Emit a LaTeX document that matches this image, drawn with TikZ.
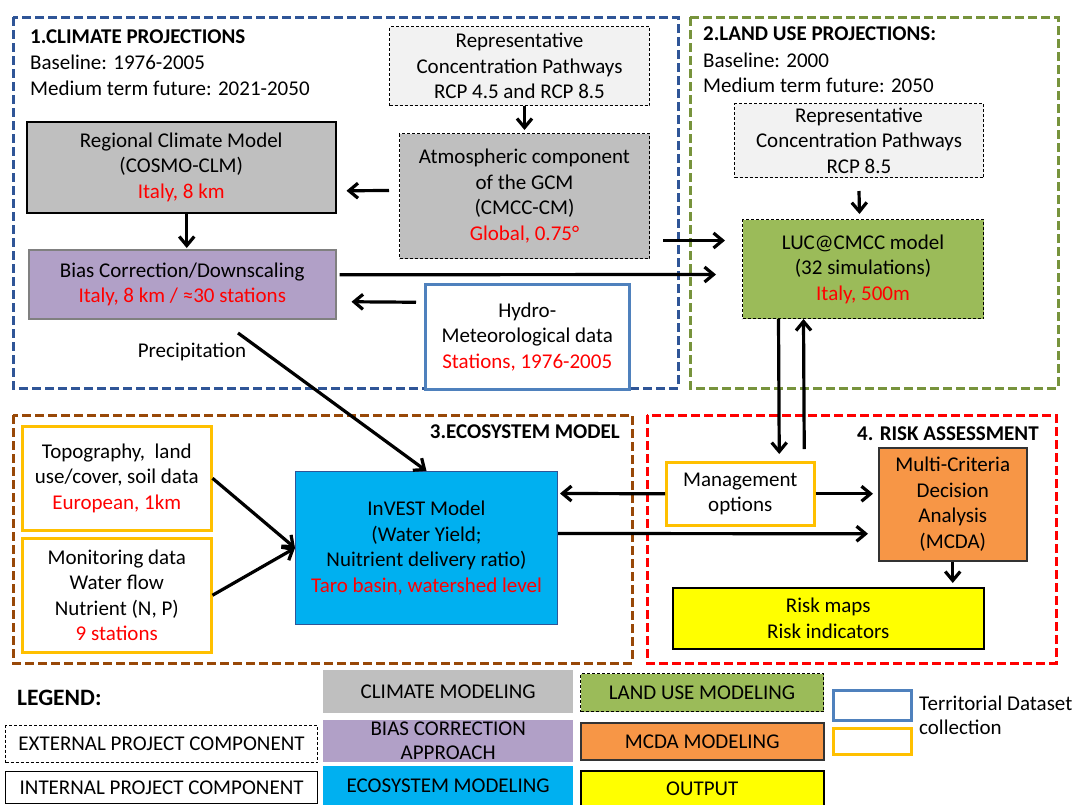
\documentclass[tikz,border=0pt]{standalone}
\usepackage{fontspec}
\setmainfont{Carlito}
\usetikzlibrary{arrows.meta}
\definecolor{gblue}{RGB}{47,85,151}
\definecolor{ggreen}{RGB}{119,147,60}
\definecolor{gbrown}{RGB}{152,72,7}
\definecolor{gred}{RGB}{255,0,0}
\definecolor{lgray}{RGB}{242,242,242}
\definecolor{mgray}{RGB}{191,191,191}
\definecolor{purp}{RGB}{177,160,199}
\definecolor{hblue}{RGB}{79,129,189}
\definecolor{lgreen}{RGB}{155,187,89}
\definecolor{cyanb}{RGB}{0,176,240}
\definecolor{orng}{RGB}{247,150,70}
\definecolor{ybord}{RGB}{255,192,0}
\definecolor{yfill}{RGB}{255,255,0}
\definecolor{txtred}{RGB}{255,0,0}
\newcommand\bodyf{\fontsize{21}{25.5}\selectfont}
\newcommand\legf{\fontsize{21}{24}\selectfont}
\newcommand\red[1]{\textcolor{txtred}{#1}}
\begin{document}
\begin{tikzpicture}[x=1pt,y=-1pt,
  box/.style={rectangle,align=center,inner sep=0pt,font=\bodyf,anchor=north west},
  extbox/.style={box,draw=black,line width=1pt,dash pattern=on 3pt off 2pt},
  group/.style={line width=3pt,dash pattern=on 9pt off 4pt},
  arr/.style={line width=3.2pt,-{Straight Barb[length=9pt,width=15pt]}},
  ttl/.style={font=\bodyf\bfseries,inner sep=0pt},
  plain/.style={font=\bodyf,inner sep=0pt},
  leg/.style={rectangle,align=center,inner sep=0pt,font=\legf,anchor=north west}]
\useasboundingbox (0,0) rectangle (1077,804);
\fill[white] (0,0) rectangle (1077,804);
% group frames
\draw[group,draw=gblue] (13,17) rectangle (678,388);
\draw[group,draw=ggreen] (690,17) rectangle (1058,388);
\draw[group,draw=gbrown] (13,415) rectangle (632,663);
\draw[group,draw=gred] (647,415) rectangle (1056,663);
% titles
\node[ttl,anchor=west] (t1) at (30,37) {1.CLIMATE PROJECTIONS};
\node[plain,anchor=west] (t1a) at (30,62) {Baseline: 1976-2005};
\node[plain,anchor=west] (t1b) at (30,88) {Medium term future: 2021-2050};
\node[ttl,anchor=west] (t2) at (703,34) {2.LAND USE PROJECTIONS:};
\node[plain,anchor=west] (t2a) at (703,60) {Baseline: 2000};
\node[plain,anchor=west] (t2b) at (703,85) {Medium term future: 2050};
\node[ttl,anchor=east] (t3) at (620,432) {3.ECOSYSTEM MODEL};
\node[ttl,anchor=west] (t4) at (857,434) {4. RISK ASSESSMENT};
% boxes
\node[extbox,fill=lgray,minimum width=260pt,minimum height=79pt] (rcp1) at (389,26)
  {Representative\\Concentration Pathways\\RCP 4.5 and RCP 8.5};
\node[extbox,fill=mgray,minimum width=250pt,minimum height=125pt] (gcm) at (399,133)
  {Atmospheric component\\of the GCM\\(CMCC-CM)\\\red{Global, 0.75°}};
\node[box,fill=mgray,draw=black,line width=1.5pt,minimum width=309pt,minimum height=91pt] (rcm) at (26,121)
  {Regional Climate Model\\(COSMO-CLM)\\\red{Italy, 8 km}};
\node[box,fill=purp,draw=gray,line width=1.5pt,minimum width=307pt,minimum height=69pt] (bias) at (28,249)
  {Bias Correction/Downscaling\\\red{Italy, 8 km / ≈30 stations}};
\node[box,fill=white,draw=hblue,line width=2.5pt,minimum width=204pt,minimum height=105pt] (hydro) at (424,283)
  {Hydro-\\Meteorological data\\\red{Stations, 1976-2005}};
\node[extbox,fill=lgray,minimum width=249pt,minimum height=74pt] (rcp2) at (734,103)
  {Representative\\Concentration Pathways\\RCP 8.5};
\node[extbox,fill=lgreen,minimum width=241pt,minimum height=99pt] (luc) at (742,219)
  {LUC@CMCC model\\(32 simulations)\\\red{Italy, 500m}};
\node[box,fill=white,draw=ybord,line width=2.5pt,minimum width=189pt,minimum height=104pt] (topo) at (21,425)
  {Topography,\ \ land\\use/cover, soil data\\\red{European, 1km}};
\node[box,fill=white,draw=ybord,line width=2.5pt,minimum width=189pt,minimum height=114pt] (monit) at (21,537)
  {Monitoring data\\Water flow\\Nutrient (N, P)\\\red{9 stations}};
\node[box,fill=cyanb,draw=gblue,line width=1pt,minimum width=262pt,minimum height=153pt] (invest) at (295,471)
  {InVEST Model\\(Water Yield;\\Nuitrient delivery ratio)\\\red{Taro basin, watershed level}};
\node[box,fill=white,draw=ybord,line width=2.5pt,minimum width=148pt,minimum height=63pt] (mgmt) at (665,461)
  {Management\\options};
\node[box,fill=orng,draw=black!80,line width=1.5pt,minimum width=148pt,minimum height=113pt] (mcda) at (878,447)
  {Multi-Criteria\\Decision\\Analysis\\(MCDA)};
\node[box,fill=yfill,draw=black,line width=1.5pt,minimum width=311pt,minimum height=61pt] (risk) at (672,587)
  {Risk maps\\Risk indicators};
\node[plain] (prec) at (192,352) {Precipitation};
\coordinate (pstart) at (238,333);
% arrows
\draw[arr] ([xshift=5pt]rcp1.south) -- ([yshift=3pt]gcm.north);
\draw[arr] ([xshift=-10pt,yshift=5.5pt]gcm.west) -- ([xshift=10pt,yshift=-23.5pt]rcm.east);
\draw[arr] ([xshift=5.5pt]rcm.south) -- ([xshift=4.5pt,yshift=1pt]bias.north);
\draw[arr] ([xshift=3pt,yshift=9.5pt]bias.east) -- ([xshift=-26pt,yshift=-5.5pt]luc.west);
\draw[arr] ([xshift=13pt,yshift=-44.5pt]gcm.east) -- ([xshift=-17pt,yshift=28.5pt]luc.west);
\draw[arr] ([xshift=-8pt,yshift=34.5pt]hydro.west) -- ([xshift=15pt,yshift=-17.5pt]bias.east);
\draw[arr] (pstart) -- (invest.north);
\draw[arr] ([yshift=-13pt]rcp2.south) -- ([xshift=-3.5pt,yshift=5pt]luc.north);
\draw[arr] ([xshift=-84.5pt]luc.south) -- ([xshift=39pt,yshift=7pt]mgmt.north);
\draw[arr] ([xshift=64pt,yshift=12pt]mgmt.north) -- ([xshift=-59.5pt]luc.south);
\draw[arr] (mgmt.west) -- ([xshift=2pt,yshift=54.5pt]invest.east);
\draw[arr] (mgmt.east) -- ([xshift=-5pt,yshift=10.5pt]mcda.west);
\draw[arr] ([yshift=14.5pt]invest.east) -- ([xshift=-10pt,yshift=-29.5pt]mcda.west);
\draw[arr] (mcda.south) -- ([xshift=124.5pt,yshift=4pt]risk.north);
\draw[arr] (topo.east) -- (invest.west);
\draw[arr] (monit.east) -- (invest.west);
% legend
\node[inner sep=0pt,font=\fontsize{23.5}{28}\selectfont\bfseries,anchor=west] (legend) at (17,698) {LEGEND:};
\node[leg,fill=mgray,minimum width=250pt,minimum height=43pt] (lclim) at (323,670) {CLIMATE MODELING};
\node[leg,fill=lgreen,draw=black,line width=1pt,dash pattern=on 3pt off 2pt,minimum width=243pt,minimum height=38pt] (lland) at (580,673) {LAND USE MODELING};
\node[leg,fill=purp,minimum width=250pt,minimum height=42pt] (lbias) at (323,720) {BIAS CORRECTION\\APPROACH};
\node[leg,fill=orng,draw=black!80,line width=1.5pt,minimum width=243pt,minimum height=37pt] (lmcda) at (580,722) {MCDA MODELING};
\node[leg,fill=white,draw=black,line width=1pt,dash pattern=on 3pt off 2pt,minimum width=312pt,minimum height=37pt] (lext) at (5,725) {EXTERNAL PROJECT COMPONENT};
\node[leg,fill=white,draw=black,line width=1.2pt,minimum width=312pt,minimum height=32pt] (lint) at (5,771) {INTERNAL PROJECT COMPONENT};
\node[leg,fill=cyanb,minimum width=250pt,minimum height=40pt] (leco) at (323,766) {ECOSYSTEM MODELING};
\node[leg,fill=yfill,draw=black,line width=1.5pt,minimum width=243pt,minimum height=36pt] (lout) at (580,770) {OUTPUT};
\node[leg,fill=white,draw=hblue,line width=2.5pt,minimum width=78pt,minimum height=30pt] (lterr1) at (832,689) {};
\node[leg,fill=white,draw=ybord,line width=2.5pt,minimum width=78pt,minimum height=26pt] (lterr2) at (832,727) {};
\node[plain,anchor=west,align=left,font=\legf] (lterrt) at (919,715) {Territorial Dataset\\collection};
\end{tikzpicture}
\end{document}
